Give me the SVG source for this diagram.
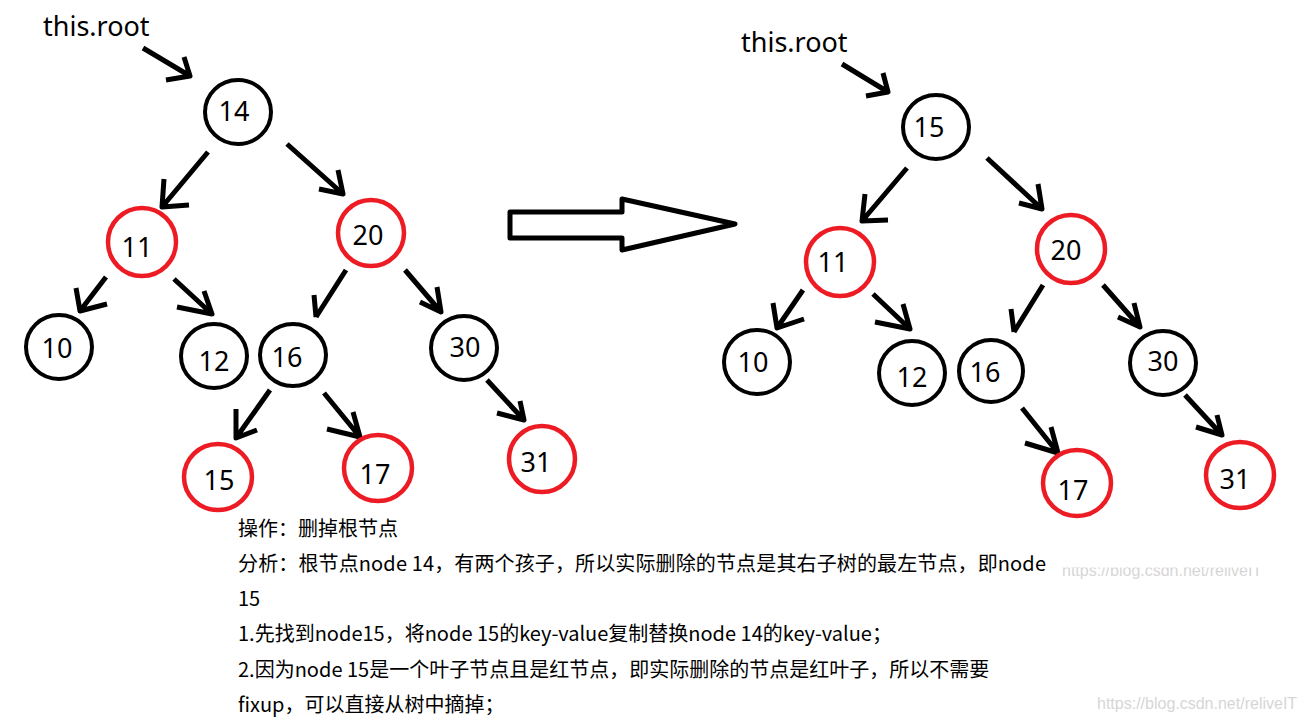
<svg xmlns="http://www.w3.org/2000/svg" width="1303" height="722" viewBox="0 0 1303 722">
<style>
.b{fill:none;stroke:#000;stroke-width:4}
.r{fill:none;stroke:#ed1c24;stroke-width:4.5}
.n{font-family:"Noto Sans","Open Sans","Liberation Sans",sans-serif;font-size:27px;fill:#000;text-anchor:middle}
.lbl{font-family:"Noto Sans","Open Sans","Liberation Sans",sans-serif;font-size:27px;fill:#000}
.c{fill:none;stroke:#000;stroke-width:5;stroke-linejoin:round}
.t{font-family:"Microsoft YaHei","Noto Sans CJK SC",sans-serif;font-size:20px;fill:#000}
.w{font-family:"Liberation Sans",Arial,sans-serif;font-size:16px;fill:#d6d6d6}
</style>
<defs>
<clipPath id="wm1"><rect x="1050" y="567.5" width="240" height="16"/></clipPath>
</defs>
<rect width="1303" height="722" fill="#fff"/>

<text class="lbl" x="43" y="36">this.root</text>
<text class="lbl" x="741" y="52">this.root</text>

<g id="connectors">
<path class="c" d="M143,48 L190,76 M184,57 L190,76 L166,80"/>
<path class="c" d="M208,152 L162,207 M164,179 L162,207 L189,205"/>
<path class="c" d="M287,144 L343,194 M338,170 L343,194 L319,189"/>
<path class="c" d="M106,277 L80,311 M76,288 L80,311 L107,304"/>
<path class="c" d="M174,279 L212,314 M204,291 L212,314 L177,307"/>
<path class="c" d="M346,270 L316,317 M314,295 L316,317"/>
<path class="c" d="M405,270 L441,312 M437,287 L441,312 L420,302"/>
<path class="c" d="M270,390 L236,438 M236,409 L236,438 L257,430"/>
<path class="c" d="M324,393 L360,437 M353,412 L360,437 L327,429"/>
<path class="c" d="M487,380 L524,420 M520,401 L524,420 L497,413"/>

<path class="c" d="M842,64 L888,92 M883,73 L888,92 L866,96"/>
<path class="c" d="M907,168 L862,221 M865,194 L862,221 L888,220"/>
<path class="c" d="M987,158 L1042,209 M1038,184 L1042,209 L1019,203"/>
<path class="c" d="M803,290 L777,328 M773,303 L777,328 L804,319"/>
<path class="c" d="M873,294 L910,329 M903,304 L910,329 L875,322"/>
<path class="c" d="M1043,285 L1014,332 M1011,309 L1014,332"/>
<path class="c" d="M1103,285 L1140,327 M1134,303 L1140,327 L1118,317"/>
<path class="c" d="M1022,408 L1058,453 M1051,427 L1058,453 L1025,443"/>
<path class="c" d="M1185,395 L1222,435 M1217,415 L1222,435 L1196,427"/>

<polygon class="c" fill="#fff" points="510,212 622,212 622,199 735,224 622,250 622,238 510,238"/>
</g>

<g id="L14"><ellipse class="b" cx="238" cy="112" rx="33" ry="32"/><text class="n" x="234" y="121">14</text></g>
<g id="L11"><ellipse class="r" cx="142" cy="242" rx="34" ry="34"/><text class="n" x="137" y="257">11</text></g>
<g id="L20"><ellipse class="r" cx="371" cy="233" rx="33" ry="33"/><text class="n" x="368" y="245">20</text></g>
<g id="L10"><ellipse class="b" cx="59" cy="347" rx="33" ry="32"/><text class="n" x="57" y="358">10</text></g>
<g id="L12"><ellipse class="b" cx="214" cy="356" rx="33" ry="32"/><text class="n" x="214" y="371">12</text></g>
<g id="L16"><ellipse class="b" cx="293" cy="355" rx="33" ry="31"/><text class="n" x="287" y="367">16</text></g>
<g id="L30"><ellipse class="b" cx="464" cy="348" rx="33" ry="32"/><text class="n" x="465" y="357">30</text></g>
<g id="L15"><ellipse class="r" cx="218" cy="477" rx="34" ry="33"/><text class="n" x="219" y="490">15</text></g>
<g id="L17"><ellipse class="r" cx="378" cy="468" rx="34" ry="33"/><text class="n" x="375" y="484">17</text></g>
<g id="L31"><ellipse class="r" cx="542" cy="459" rx="33" ry="33"/><text class="n" x="536" y="472">31</text></g>

<g id="R15"><ellipse class="b" cx="936" cy="127" rx="33" ry="32"/><text class="n" x="929" y="137">15</text></g>
<g id="R11"><ellipse class="r" cx="840" cy="262" rx="34" ry="34"/><text class="n" x="833" y="272">11</text></g>
<g id="R20"><ellipse class="r" cx="1071" cy="249" rx="34" ry="34"/><text class="n" x="1066" y="260">20</text></g>
<g id="R10"><ellipse class="b" cx="757" cy="362" rx="33" ry="32"/><text class="n" x="753" y="372">10</text></g>
<g id="R12"><ellipse class="b" cx="912" cy="373" rx="33" ry="32"/><text class="n" x="912" y="387">12</text></g>
<g id="R16"><ellipse class="b" cx="991" cy="371" rx="32" ry="31"/><text class="n" x="985" y="382">16</text></g>
<g id="R30"><ellipse class="b" cx="1163" cy="363" rx="33" ry="32"/><text class="n" x="1163" y="371">30</text></g>
<g id="R17"><ellipse class="r" cx="1077" cy="483" rx="34" ry="33"/><text class="n" x="1073" y="500">17</text></g>
<g id="R31"><ellipse class="r" cx="1240" cy="475" rx="34" ry="33"/><text class="n" x="1235" y="489">31</text></g>

<g id="notes">
<text class="t" x="238" y="536">操作：删掉根节点</text>
<text class="t" x="238" y="571" textLength="808" lengthAdjust="spacing">分析：根节点node 14，有两个孩子，所以实际删除的节点是其右子树的最左节点，即node</text>
<text class="t" x="238" y="606">15</text>
<text class="t" x="238" y="641">1.先找到node15，将node 15的key-value复制替换node 14的key-value；</text>
<text class="t" x="238" y="677">2.因为node 15是一个叶子节点且是红节点，即实际删除的节点是红叶子，所以不需要</text>
<text class="t" x="238" y="712">fixup，可以直接从树中摘掉；</text>
</g>

<g id="watermarks">
<text class="w" x="1062" y="576" clip-path="url(#wm1)">https://blog.csdn.net/reliveIT</text>
<text class="w" x="1097" y="709">https://blog.csdn.net/reliveIT</text>
</g>
</svg>
